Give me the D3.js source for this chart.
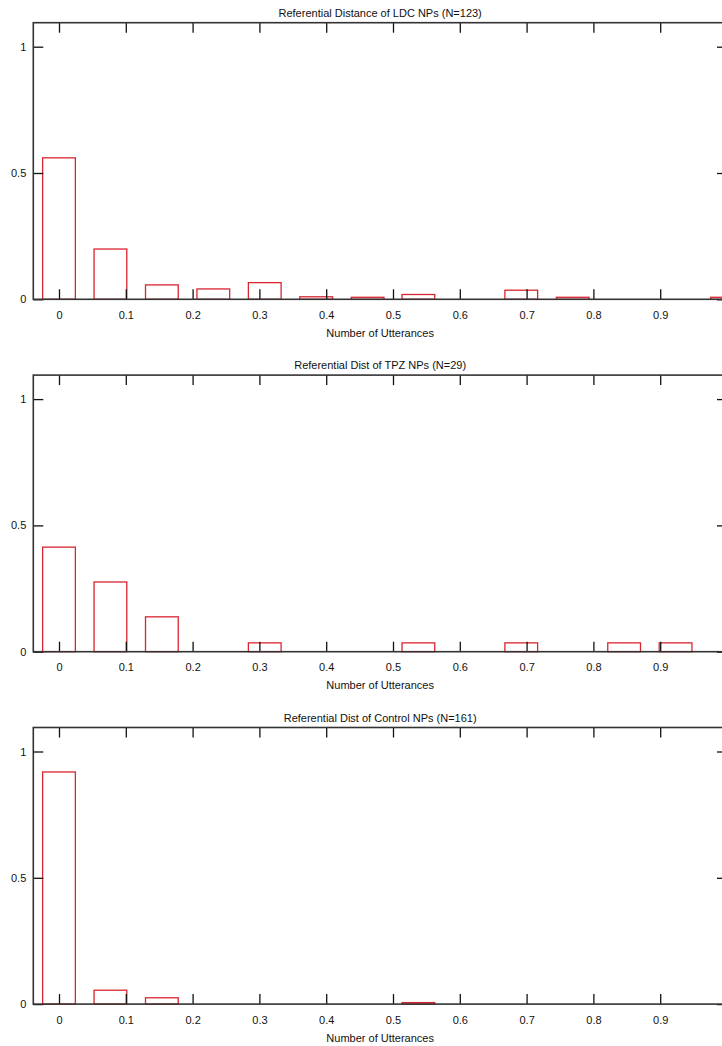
<!DOCTYPE html>
<html>
<head>
<meta charset="utf-8">
<script src="https://cdn.jsdelivr.net/npm/d3@7/dist/d3.min.js"></script>
<style>
  html, body { margin: 0; padding: 0; background: #fff; }
  svg { display: block; }
  text { font-family: "Liberation Sans", Arial, sans-serif; font-size: 11px; fill: #111; }
</style>
</head>
<body>
<svg id="chart" width="722" height="1046"></svg>
<script>
// ---- data ----
const binCenters = [0, 0.077, 0.154, 0.231, 0.308, 0.385, 0.462, 0.538, 0.615, 0.692, 0.769, 0.846, 0.923, 1.0];
const titles = [
  "Referential Distance of LDC NPs (N=123)",
  "Referential Dist of TPZ NPs (N=29)",
  "Referential Dist of Control NPs (N=161)"
];
const ldcValues     = [0.560, 0.199, 0.057, 0.041, 0.066, 0.010, 0.008, 0.019, 0, 0.036, 0.008, 0, 0, 0.008];
const tpzValues     = [0.414, 0.276, 0.138, 0, 0.035, 0, 0, 0.035, 0, 0.035, 0, 0.035, 0.035, 0];
const controlValues = [0.919, 0.055, 0.025, 0, 0, 0, 0, 0.006, 0, 0, 0, 0, 0, 0];
const seriesValues = [ldcValues, tpzValues, controlValues];
const xTickValues = [0, 0.1, 0.2, 0.3, 0.4, 0.5, 0.6, 0.7, 0.8, 0.9];
const yTickValues = [0, 0.5, 1];
const xLabel = "Number of Utterances";

// ---- layout ----
const svg = d3.select("#chart");
const panelStep = 352.4;
const barWidth = 0.049;
const x = d3.scaleLinear().domain([0, 1]).range([59, 727]);
const boxLeft = 33.3, boxRight = 727;

seriesValues.forEach((vals, i) => {
  const base = i * panelStep;
  const g = svg.append("g");
  const y = d3.scaleLinear().domain([0, 1]).range([299.3 + base, 46.7 + base]);
  const boxTop = 22.7 + base, boxBottom = y(0);

  // title
  g.append("text")
    .attr("x", (boxLeft + boxRight) / 2)
    .attr("y", 17 + base)
    .attr("text-anchor", "middle")
    .text(titles[i]);

  // bars
  g.selectAll("rect.bar")
    .data(binCenters.map((c, k) => ({ c, v: vals[k] })).filter(d => d.v > 0))
    .enter().append("rect")
    .attr("class", "bar")
    .attr("x", d => x(d.c - barWidth / 2))
    .attr("width", d => x(d.c + barWidth / 2) - x(d.c - barWidth / 2))
    .attr("y", d => y(d.v))
    .attr("height", d => y(0) - y(d.v))
    .attr("fill", "none")
    .attr("stroke", "#d92531")
    .attr("stroke-width", 1.3);

  // axes
  const bottom = g.append("g").attr("transform", `translate(0,${boxBottom})`)
    .call(d3.axisBottom(x).tickValues(xTickValues).tickSize(-10).tickPadding(12)
      .tickFormat(d => String(d)));
  const top = g.append("g").attr("transform", `translate(0,${boxTop})`)
    .call(d3.axisTop(x).tickValues(xTickValues).tickSize(-10).tickFormat(""));
  const left = g.append("g").attr("transform", `translate(${boxLeft},0)`)
    .call(d3.axisLeft(y).tickValues(yTickValues).tickSize(-10).tickPadding(7)
      .tickFormat(d => String(d)));
  const right = g.append("g").attr("transform", `translate(${boxRight},0)`)
    .call(d3.axisRight(y).tickValues(yTickValues).tickSize(-10).tickFormat(""));

  [bottom, top, left, right].forEach(a => {
    a.select(".domain").remove();
    a.selectAll(".tick line").attr("stroke", "#111").attr("stroke-width", 1.3);
    a.selectAll(".tick text")
      .attr("fill", "#111")
      .style("font-family", '"Liberation Sans", Arial, sans-serif')
      .style("font-size", "11px");
  });

  // box
  g.append("rect")
    .attr("x", boxLeft).attr("y", boxTop)
    .attr("width", boxRight - boxLeft).attr("height", boxBottom - boxTop)
    .attr("fill", "none").attr("stroke", "#333").attr("stroke-width", 1.6);

  // x label
  g.append("text")
    .attr("x", (boxLeft + boxRight) / 2)
    .attr("y", 337 + base)
    .attr("text-anchor", "middle")
    .text(xLabel);
});
</script>
</body>
</html>
